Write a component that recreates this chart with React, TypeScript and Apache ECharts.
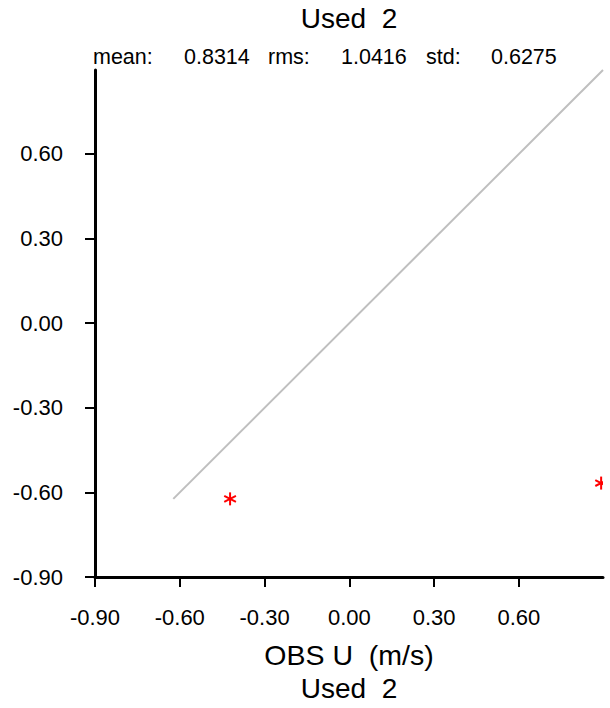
import React, { useEffect, useRef } from "react";
import * as echarts from "echarts";

const obsU = [-0.422, 0.891];
const modelU = [-0.623, -0.567];
const refLine = [-0.623, 0.8976];
const tickValues = [-0.9, -0.6, -0.3, 0.0, 0.3, 0.6];
const statLabels = ["mean:", "0.8314", "rms:", "1.0416", "std:", "0.6275"];
const statX = [93, 184, 268, 341, 426, 491];

const FONT = "'Liberation Sans', Arial, Helvetica, sans-serif";

export default function App() {
  const ref = useRef<HTMLDivElement>(null);
  useEffect(() => {
    if (!ref.current) return;
    const chart = echarts.init(ref.current, undefined, { renderer: "svg" });
    const points = obsU.map((x, i) => [x, modelU[i]]);
    const axisCommon = (margin: number) => ({
      type: "value" as const,
      min: -0.9,
      max: 0.8976,
      splitLine: { show: false },
      axisLine: { show: true, onZero: false, lineStyle: { color: "#000", width: 3 } },
      axisTick: {
        show: true,
        customValues: tickValues,
        length: 10,
        lineStyle: { color: "#000", width: 2 },
      },
      axisLabel: {
        customValues: tickValues,
        formatter: (v: number) => v.toFixed(2),
        fontSize: 22,
        color: "#000",
        fontFamily: FONT,
        margin,
      },
    });
    chart.setOption({
      animation: false,
      backgroundColor: "#fff",
      grid: { left: 95, right: 7, top: 70, bottom: 131, containLabel: false },
      xAxis: axisCommon(29),
      yAxis: axisCommon(32),
      series: [
        {
          type: "line",
          data: [
            [refLine[0], refLine[0]],
            [refLine[1], refLine[1]],
          ],
          symbol: "none",
          lineStyle: { color: "#bfbfbf", width: 2 },
          silent: true,
        },
        {
          type: "custom",
          clip: true,
          data: points,
          renderItem: (params: any, api: any) => {
            const p = api.coord([api.value(0), api.value(1)]);
            const r = 6.5;
            const dx = r * 0.9;
            const dy = r * 0.45;
            const style = { stroke: "#ff0000", lineWidth: 2 };
            return {
              type: "group",
              children: [
                { type: "line", shape: { x1: p[0], y1: p[1] - r, x2: p[0], y2: p[1] + r }, style },
                { type: "line", shape: { x1: p[0] - dx, y1: p[1] - dy, x2: p[0] + dx, y2: p[1] + dy }, style },
                { type: "line", shape: { x1: p[0] - dx, y1: p[1] + dy, x2: p[0] + dx, y2: p[1] - dy }, style },
              ],
            };
          },
        },
      ],
      graphic: [
        {
          type: "text",
          x: 349,
          y: 18,
          style: { text: "Used  2", fontSize: 28, fontFamily: FONT, fill: "#000", textAlign: "center", textVerticalAlign: "middle" },
        },
        ...statLabels.map((t, i) => ({
          type: "text",
          x: statX[i],
          y: 57,
          style: { text: t, fontSize: 21.5, fontFamily: FONT, fill: "#000", textAlign: "left", textVerticalAlign: "middle" },
        })),
        {
          type: "text",
          x: 349,
          y: 655,
          style: { text: "OBS U  (m/s)", fontSize: 28.5, fontFamily: FONT, fill: "#000", textAlign: "center", textVerticalAlign: "middle" },
        },
        {
          type: "text",
          x: 349,
          y: 688,
          style: { text: "Used  2", fontSize: 28, fontFamily: FONT, fill: "#000", textAlign: "center", textVerticalAlign: "middle" },
        },
      ],
    });
    return () => chart.dispose();
  }, []);
  return (
    <div
      ref={ref}
      style={{ position: "fixed", left: 0, top: 0, width: 610, height: 708, background: "#fff" }}
    />
  );
}
